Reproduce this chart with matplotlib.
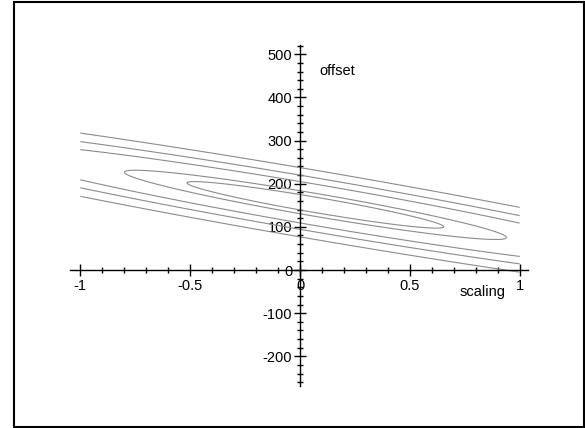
import matplotlib
matplotlib.use('Agg')
import matplotlib.pyplot as plt
from matplotlib.patches import Rectangle
import numpy as np

plt.rcParams['font.family'] = ['Liberation Sans', 'DejaVu Sans']

# error surface parameters (valley through the minimum)
a_min = 0.07        # scaling at the minimum
b_min = 151.0       # offset at the minimum
valley_slope = -87.0
curvature = 945.0
levels = [323, 715, 2307, 3944, 6455]

x_ticks = [-1, -0.5, 0, 0.5, 1]
x_labels = ['-1', '-0.5', '0', '0.5', '1']
y_ticks = [-200, -100, 0, 100, 200, 300, 400, 500]
y_labels = ['-200', '-100', '0', '100', '200', '300', '400', '500']

a = np.linspace(-1, 1, 301)
b = np.linspace(-300, 560, 500)
A, B = np.meshgrid(a, b)
Z = (B - b_min - valley_slope * (A - a_min)) ** 2 + curvature * (A - a_min) ** 2

fig = plt.figure(figsize=(5.85, 4.28), dpi=100)
ax = fig.add_axes([0, 0, 1, 1])
ax.set_xlim(-300 / 219.7, 285 / 219.7)
ax.set_ylim(-158 / 0.4314, 270 / 0.4314)

ax.contour(A, B, Z, levels=levels, colors='#8c8c8c', linewidths=0.8)

# axes through the origin
for side in ['top', 'right']:
    ax.spines[side].set_visible(False)
ax.spines['left'].set_position(('data', 0))
ax.spines['bottom'].set_position(('data', 0))
ax.spines['bottom'].set_bounds(-1.045, 1.04)
ax.spines['left'].set_bounds(-269, 522)
ax.spines['left'].set_linewidth(1.0)
ax.spines['bottom'].set_linewidth(1.0)

ax.set_xticks(x_ticks)
ax.set_xticklabels(x_labels)
ax.set_xticks(np.arange(-10, 11) / 10, minor=True)
ax.set_yticks(y_ticks)
ax.set_yticklabels(y_labels)
ax.set_yticks(np.arange(-260, 521, 20), minor=True)
ax.tick_params(which='major', direction='inout', length=8, width=1.0, labelsize=10.5, pad=1.5)
ax.tick_params(which='minor', direction='inout', length=5, width=1.0)
ax.tick_params(axis='x', which='major', pad=2.5)

ax.text(0.833, -51, 'scaling', fontsize=10.5, ha='center', va='center')
ax.text(0.168, 461, 'offset', fontsize=10.5, ha='center', va='center')

fig.patches.append(Rectangle((13.5 / 585, 1.5 / 428), 570 / 585, 424.5 / 428,
                             transform=fig.transFigure, fill=False,
                             edgecolor='black', linewidth=1.5))

fig.savefig('out.png', dpi=100)
